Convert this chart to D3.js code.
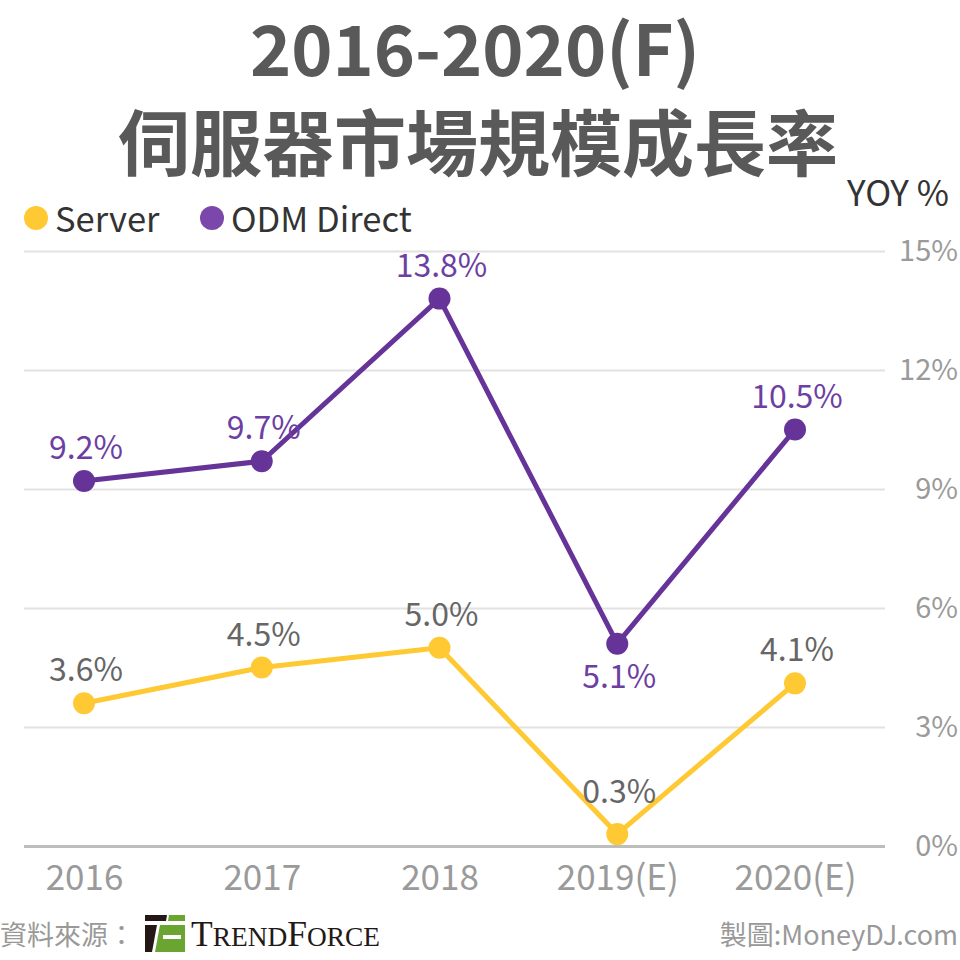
<!DOCTYPE html>
<html>
<head>
<meta charset="utf-8">
<script src="https://cdn.jsdelivr.net/npm/d3@7"></script>
<style>
  body { margin: 0; background: #fff; }
  svg { display: block; font-family: 'Noto Sans CJK TC', 'Noto Sans', sans-serif; }
</style>
</head>
<body>
<div id="chart"></div>
<script>
// Chart data
const years = ['2016', '2017', '2018', '2019(E)', '2020(E)'];
const serverGrowth = [3.6, 4.5, 5.0, 0.3, 4.1];
const odmGrowth = [9.2, 9.7, 13.8, 5.1, 10.5];
const yTicks = [0, 3, 6, 9, 12, 15];

const w = 960;
const h = 960;

const svg = d3.select('#chart')
  .append('svg')
  .attr('width', w)
  .attr('height', h);

// Title
svg.append('text')
  .attr('x', 475)
  .attr('y', 76)
  .attr('text-anchor', 'middle')
  .attr('font-size', 70)
  .attr('font-weight', 700)
  .attr('fill', '#595959')
  .text('2016-2020(F)');

svg.append('text')
  .attr('x', 478)
  .attr('y', 170)
  .attr('text-anchor', 'middle')
  .attr('font-size', 72)
  .attr('font-weight', 700)
  .attr('fill', '#595959')
  .text('伺服器市場規模成長率');

// Scales
const xscale = d3.scalePoint().domain(years).range([84, 795]);
const yscale = d3.scaleLinear().domain([0, 15]).range([846, 251]);

// Gridlines + right-hand labels
const yAxis = d3.axisRight(yscale)
  .tickValues(yTicks)
  .tickSize(-861)
  .tickFormat((d) => d + '%');

const yG = svg.append('g')
  .attr('transform', 'translate(885, 0)')
  .call(yAxis);
yG.select('.domain').remove();
yG.selectAll('.tick line')
  .attr('stroke', (d) => (d === 0 ? '#bdbdbd' : '#e2e2e2'))
  .attr('stroke-width', (d) => (d === 0 ? 3 : 2));
yG.selectAll('.tick text')
  .attr('x', 73)
  .attr('text-anchor', 'end')
  .attr('font-size', 29)
  .attr('font-family', "'Noto Sans CJK TC', sans-serif")
  .attr('fill', '#9a9a9a');

// X axis labels
const xAxis = d3.axisBottom(xscale).tickSize(0).tickPadding(19);
const xG = svg.append('g')
  .attr('transform', 'translate(0, 846)')
  .call(xAxis);
xG.select('.domain').remove();
xG.selectAll('.tick text')
  .attr('font-size', 35)
  .attr('font-family', "'Noto Sans CJK TC', sans-serif")
  .attr('fill', '#9a9a9a');

// Series lines, points and labels
const series = [
  { name: 'Server', values: serverGrowth, color: '#ffc933', labelColor: '#666666', legend: '#ffc933' },
  { name: 'ODM Direct', values: odmGrowth, color: '#663399', labelColor: '#6d3fa3', legend: '#7b47aa' }
];

const line = d3.line()
  .x((d, i) => xscale(years[i]))
  .y((d) => yscale(d));

series.forEach((s) => {
  svg.append('path')
    .datum(s.values)
    .attr('d', line)
    .attr('fill', 'none')
    .attr('stroke', s.color)
    .attr('stroke-width', 5)
    .attr('stroke-linejoin', 'round');

  svg.selectAll(null)
    .data(s.values)
    .enter()
    .append('circle')
    .attr('cx', (d, i) => xscale(years[i]))
    .attr('cy', (d) => yscale(d))
    .attr('r', 11)
    .attr('fill', s.color);

  svg.selectAll(null)
    .data(s.values)
    .enter()
    .append('text')
    .attr('x', (d, i) => xscale(years[i]) + 2)
    .attr('y', (d, i) => {
      // the dips: ODM label goes below, Server label sits a bit higher
      if (i === 3) return s.name === 'ODM Direct' ? yscale(d) + 44 : yscale(d) - 31;
      return yscale(d) - 22;
    })
    .attr('text-anchor', 'middle')
    .attr('font-size', 32)
    .attr('fill', s.labelColor)
    .text((d) => d.toFixed(1) + '%');
});

// Legend
const legendPos = [{ cx: 36, tx: 55 }, { cx: 212, tx: 231 }];
series.forEach((s, i) => {
  svg.append('circle')
    .attr('cx', legendPos[i].cx)
    .attr('cy', 218)
    .attr('r', 12)
    .attr('fill', s.legend);
  svg.append('text')
    .attr('x', legendPos[i].tx)
    .attr('y', 232)
    .attr('font-size', 34.5)
    .attr('fill', '#333333')
    .text(s.name);
});

svg.append('text')
  .attr('x', 949)
  .attr('y', 206)
  .attr('text-anchor', 'end')
  .attr('font-size', 35)
  .attr('fill', '#333333')
  .text('YOY %');

// Footer
svg.append('text')
  .attr('x', 0)
  .attr('y', 945)
  .attr('font-size', 27)
  .attr('fill', '#999999')
  .text('資料來源：');

svg.append('text')
  .attr('x', 958)
  .attr('y', 945)
  .attr('text-anchor', 'end')
  .attr('font-size', 27)
  .attr('fill', '#999999')
  .text('製圖:MoneyDJ.com');

// TrendForce logo (rough)
const logo = svg.append('g');
logo.append('polygon')
  .attr('points', '145,915 167,915 166,921 145,921')
  .attr('fill', '#231815');
logo.append('polygon')
  .attr('points', '145,925 157,925 152,952 145,952')
  .attr('fill', '#231815');
logo.append('polygon')
  .attr('points', '169,915 185,915 185,921 168,921')
  .attr('fill', '#6aa531');
logo.append('polygon')
  .attr('points', '160,925 185,925 185,952 155,952')
  .attr('fill', '#6aa531');
logo.append('rect').attr('x', 163).attr('y', 935).attr('width', 18).attr('height', 4).attr('fill', '#fff');

const brand = logo.append('text')
  .attr('x', 191)
  .attr('y', 946)
  .attr('font-family', "'Liberation Serif', 'DejaVu Serif', serif")
  .attr('fill', '#231815')
  .attr('textLength', 189)
  .attr('lengthAdjust', 'spacingAndGlyphs');
brand.append('tspan').attr('font-size', 35).text('T');
brand.append('tspan').attr('font-size', 27).text('REND');
brand.append('tspan').attr('font-size', 35).text('F');
brand.append('tspan').attr('font-size', 27).text('ORCE');
</script>
</body>
</html>
